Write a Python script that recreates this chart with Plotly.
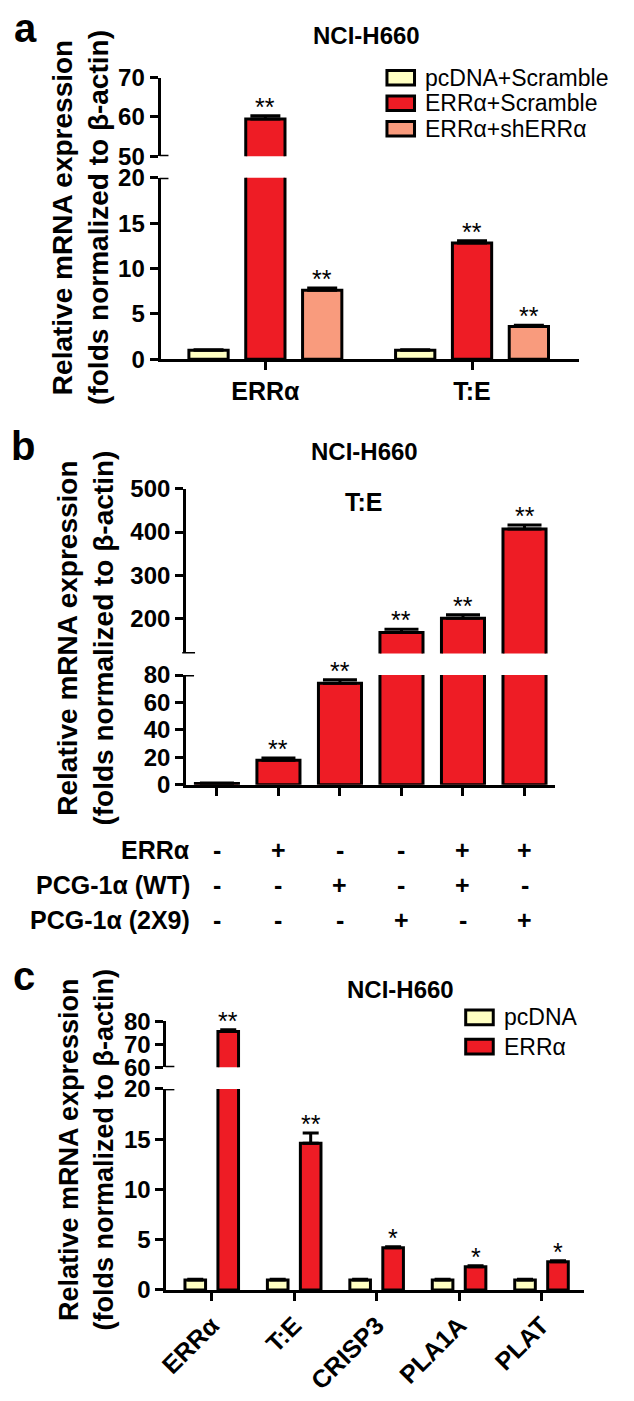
import plotly.graph_objects as go

# ---------------- data ----------------
# Panel a
a_groups = ["ERRα", "T:E"]
a_series = ["pcDNA+Scramble", "ERRα+Scramble", "ERRα+shERRα"]
a_pcdna = [1.0, 1.0]
a_errscr = [59.5, 12.8]
a_sh = [7.6, 3.6]
a_pcdna_sd = [0.05, 0.05]
a_errscr_sd = [0.8, 0.25]
a_sh_sd = [0.25, 0.15]
a_sig = [["", "**", "**"], ["", "**", "**"]]

# Panel b
b_vals = [1.0, 18.0, 74.0, 168.0, 201.0, 407.0]
b_sd = [0.3, 1.5, 2.5, 8.0, 8.0, 9.0]
b_sig = ["", "**", "**", "**", "**", "**"]
b_rows = ["ERRα", "PCG-1α (WT)", "PCG-1α (2X9)"]
b_err = ["-", "+", "-", "-", "+", "+"]
b_wt = ["-", "-", "+", "-", "+", "-"]
b_2x9 = ["-", "-", "-", "+", "-", "+"]

# Panel c
c_genes = ["ERRα", "T:E", "CRISP3", "PLA1A", "PLAT"]
c_series = ["pcDNA", "ERRα"]
c_pcdna = [1.0, 1.0, 1.0, 1.0, 1.0]
c_erra = [75.5, 14.6, 4.2, 2.3, 2.8]
c_pcdna_sd = [0.05, 0.05, 0.05, 0.05, 0.05]
c_err_sd = [0.8, 1.0, 0.1, 0.1, 0.1]
c_sig = ["**", "**", "*", "*", "*"]

# ---------------- style ----------------
W, H = 634, 1401
FONT = "Liberation Sans, Arial, sans-serif"
YELLOW = "#FFFFC2"
RED = "#EE1C25"
SALMON = "#F99B7D"


def fx(p):
    return p / W


def fy(p):
    return 1 - p / H


fig = go.Figure()


def add_bars(x, vals, sd, color, width, offset, axes, capw):
    for xa, ya in axes:
        fig.add_trace(go.Bar(
            x=x, y=vals, width=width, offset=offset,
            marker=dict(color=color, line=dict(color="black", width=3)),
            error_y=dict(type="data", array=sd, arrayminus=[0] * len(sd),
                         symmetric=False, color="black", thickness=3, width=capw),
            xaxis=xa, yaxis=ya, showlegend=False, hoverinfo="skip"))


ann = []
shapes = []


def star(text, x, y, xref, yref, size=25):
    if text:
        ann.append(dict(text=text, x=x, y=y, xref=xref, yref=yref, showarrow=False,
                        yanchor="bottom", xanchor="center", yshift=-7,
                        font=dict(family=FONT, size=size, color="black")))


def stub(ax_px, yref, yval, left=1, right=8):
    # short break mark at the cut end of a broken axis
    shapes.append(dict(type="line", xref="paper", yref=yref,
                       x0=fx(ax_px - left), x1=fx(ax_px + right), y0=yval, y1=yval,
                       line=dict(color="black", width=3)))


# ---------------- panel a ----------------
a_x = list(range(len(a_groups)))
A_W, A_STEP = 0.19, 0.275
a_data = [(a_pcdna, a_pcdna_sd, YELLOW), (a_errscr, a_errscr_sd, RED), (a_sh, a_sh_sd, SALMON)]
A_LO, A_HI = [0, 20], [50, 70]
for j, (vals, sd, col) in enumerate(a_data):
    off = (j - 1) * A_STEP - A_W / 2
    add_bars(a_x, vals, sd, col, A_W, off, [("x", "y"), ("x2", "y2")], 15)
    for i in a_x:
        top = vals[i] + sd[i]
        star(a_sig[i][j], i + (j - 1) * A_STEP, top, "x", "y2" if vals[i] > A_LO[1] else "y")

# ---------------- panel b ----------------
b_x = list(range(len(b_vals)))
B_W = 0.7
B_LO, B_HI = [0, 80], [120, 500]
add_bars(b_x, b_vals, b_sd, RED, B_W, -B_W / 2, [("x3", "y3"), ("x4", "y4")], 17)
for i in b_x:
    star(b_sig[i], i, b_vals[i] + b_sd[i], "x3", "y4" if b_vals[i] > B_LO[1] else "y3")

# ---------------- panel c ----------------
c_x = list(range(len(c_genes)))
C_W, C_STEP = 0.25, 0.4
C_LO, C_HI = [0, 20], [60, 80]
add_bars(c_x, c_pcdna, c_pcdna_sd, YELLOW, C_W, -C_STEP / 2 - C_W / 2, [("x5", "y5"), ("x6", "y6")], 8)
add_bars(c_x, c_erra, c_err_sd, RED, C_W, C_STEP / 2 - C_W / 2, [("x5", "y5"), ("x6", "y6")], 8)
for i in c_x:
    star(c_sig[i], i + C_STEP / 2, c_erra[i] + c_err_sd[i], "x5", "y6" if c_erra[i] > C_LO[1] else "y5")

# ---------------- axes ----------------
tickfont = dict(family=FONT, size=24, color="black", weight="bold")
base = dict(showline=True, linecolor="black", linewidth=3, ticks="outside", ticklen=8,
            tickwidth=3, tickcolor="black", showgrid=False, zeroline=False, tickfont=tickfont,
            fixedrange=True)
hidden = dict(visible=False, showgrid=False, zeroline=False, fixedrange=True)

AX_A, AX_B, AX_C = 153, 179, 159

lay = dict(
    width=W, height=H, margin=dict(l=0, r=0, t=0, b=0),
    paper_bgcolor="white", plot_bgcolor="rgba(0,0,0,0)", barmode="overlay",
    showlegend=False,
    # panel a
    xaxis=dict(base, domain=[fx(AX_A), fx(578)], range=[-0.507, 1.517], anchor="y",
               tickvals=a_x, ticktext=a_groups, tickfont=dict(tickfont, size=25)),
    xaxis2=dict(hidden, domain=[fx(AX_A), fx(578)], range=[-0.507, 1.517], anchor="y2"),
    yaxis=dict(base, domain=[fy(352), fy(167)], range=A_LO, tickvals=[0, 5, 10, 15, 20], anchor="x"),
    yaxis2=dict(base, domain=[fy(145), fy(65)], range=A_HI, tickvals=[50, 60, 70], anchor="x2"),
    # panel b
    xaxis3=dict(base, domain=[fx(AX_B), fx(554)], range=[-0.5, 5.5], anchor="y3",
                tickvals=b_x, showticklabels=False),
    xaxis4=dict(hidden, domain=[fx(AX_B), fx(554)], range=[-0.5, 5.5], anchor="y4"),
    yaxis3=dict(base, domain=[fy(786), fy(674)], range=B_LO, tickvals=[0, 20, 40, 60, 80], anchor="x3"),
    yaxis4=dict(base, domain=[fy(652), fy(484)], range=B_HI, tickvals=[200, 300, 400, 500], anchor="x4"),
    # panel c
    xaxis5=dict(base, domain=[fx(AX_C), fx(583)], range=[-0.549, 4.513], anchor="y5",
                tickvals=c_x, ticktext=c_genes, tickangle=-45, tickfont=dict(tickfont, size=25)),
    xaxis6=dict(hidden, domain=[fx(AX_C), fx(583)], range=[-0.549, 4.513], anchor="y6"),
    yaxis5=dict(base, domain=[fy(1301), fy(1096)], range=C_LO, tickvals=[0, 5, 10, 15, 20], anchor="x5"),
    yaxis6=dict(base, domain=[fy(1074), fy(1027)], range=C_HI, tickvals=[60, 70, 80], anchor="x6"),
)

# break marks
stub(AX_A, "y2", A_HI[0])
stub(AX_A, "y", A_LO[1])
stub(AX_B, "y4", B_HI[0], left=4, right=9)
stub(AX_B, "y3", B_LO[1])
stub(AX_C, "y6", C_HI[0])
stub(AX_C, "y5", C_LO[1])


def text(t, x, y, size, bold=True, xanchor="center", angle=0, xref="paper"):
    ann.append(dict(text=t, x=x, y=y, xref=xref, yref="paper", showarrow=False,
                    xanchor=xanchor, yanchor="middle", textangle=angle,
                    font=dict(family=FONT, size=size, color="black",
                              weight="bold" if bold else "normal")))


ytitle = "Relative mRNA expression<br>(folds normalized to β-actin)"
# panel labels
text("a", fx(16), fy(14), 40)
text("b", fx(13), fy(440), 40)
text("c", fx(14), fy(981), 40)
# titles
text("NCI-H660", fx(362), fy(22), 24)
text("NCI-H660", fx(360), fy(446), 24)
text("T:E", fx(360), fy(498), 25)
text("NCI-H660", fx(397), fy(995), 24)
# y titles
text(ytitle, fx(71), fy(207), 28, angle=-90)
text(ytitle, fx(77), fy(636), 28, angle=-90)
text(ytitle, fx(78), fy(1158), 27, angle=-90)

# panel b table
for r, (row, signs) in enumerate(zip(b_rows, [b_err, b_wt, b_2x9])):
    yy = fy([852, 888, 924][r])
    text(row, fx(185), yy, 25, xanchor="right")
    for i, s in enumerate(signs):
        text(s, i, yy, 25, xref="x3")


# legends (manual boxes)
def legend(items, x0, ys, box_w=28, box_h=15, size=23):
    for (label, col), yc in zip(items, ys):
        shapes.append(dict(type="rect", xref="paper", yref="paper",
                           x0=fx(x0), x1=fx(x0 + box_w), y0=fy(yc + box_h / 2), y1=fy(yc - box_h / 2),
                           fillcolor=col, line=dict(color="black", width=3)))
        text(label, fx(x0 + box_w + 9), fy(yc), size, bold=False, xanchor="left")


legend(list(zip(a_series, [YELLOW, RED, SALMON])), 383, [65, 91, 117])
legend(list(zip(c_series, [YELLOW, RED])), 463, [1023, 1053])

lay["annotations"] = ann
lay["shapes"] = shapes
fig.update_layout(**lay)
fig.write_html("out.html", config={"displayModeBar": False},
               post_script="document.body.style.margin='0px';")
